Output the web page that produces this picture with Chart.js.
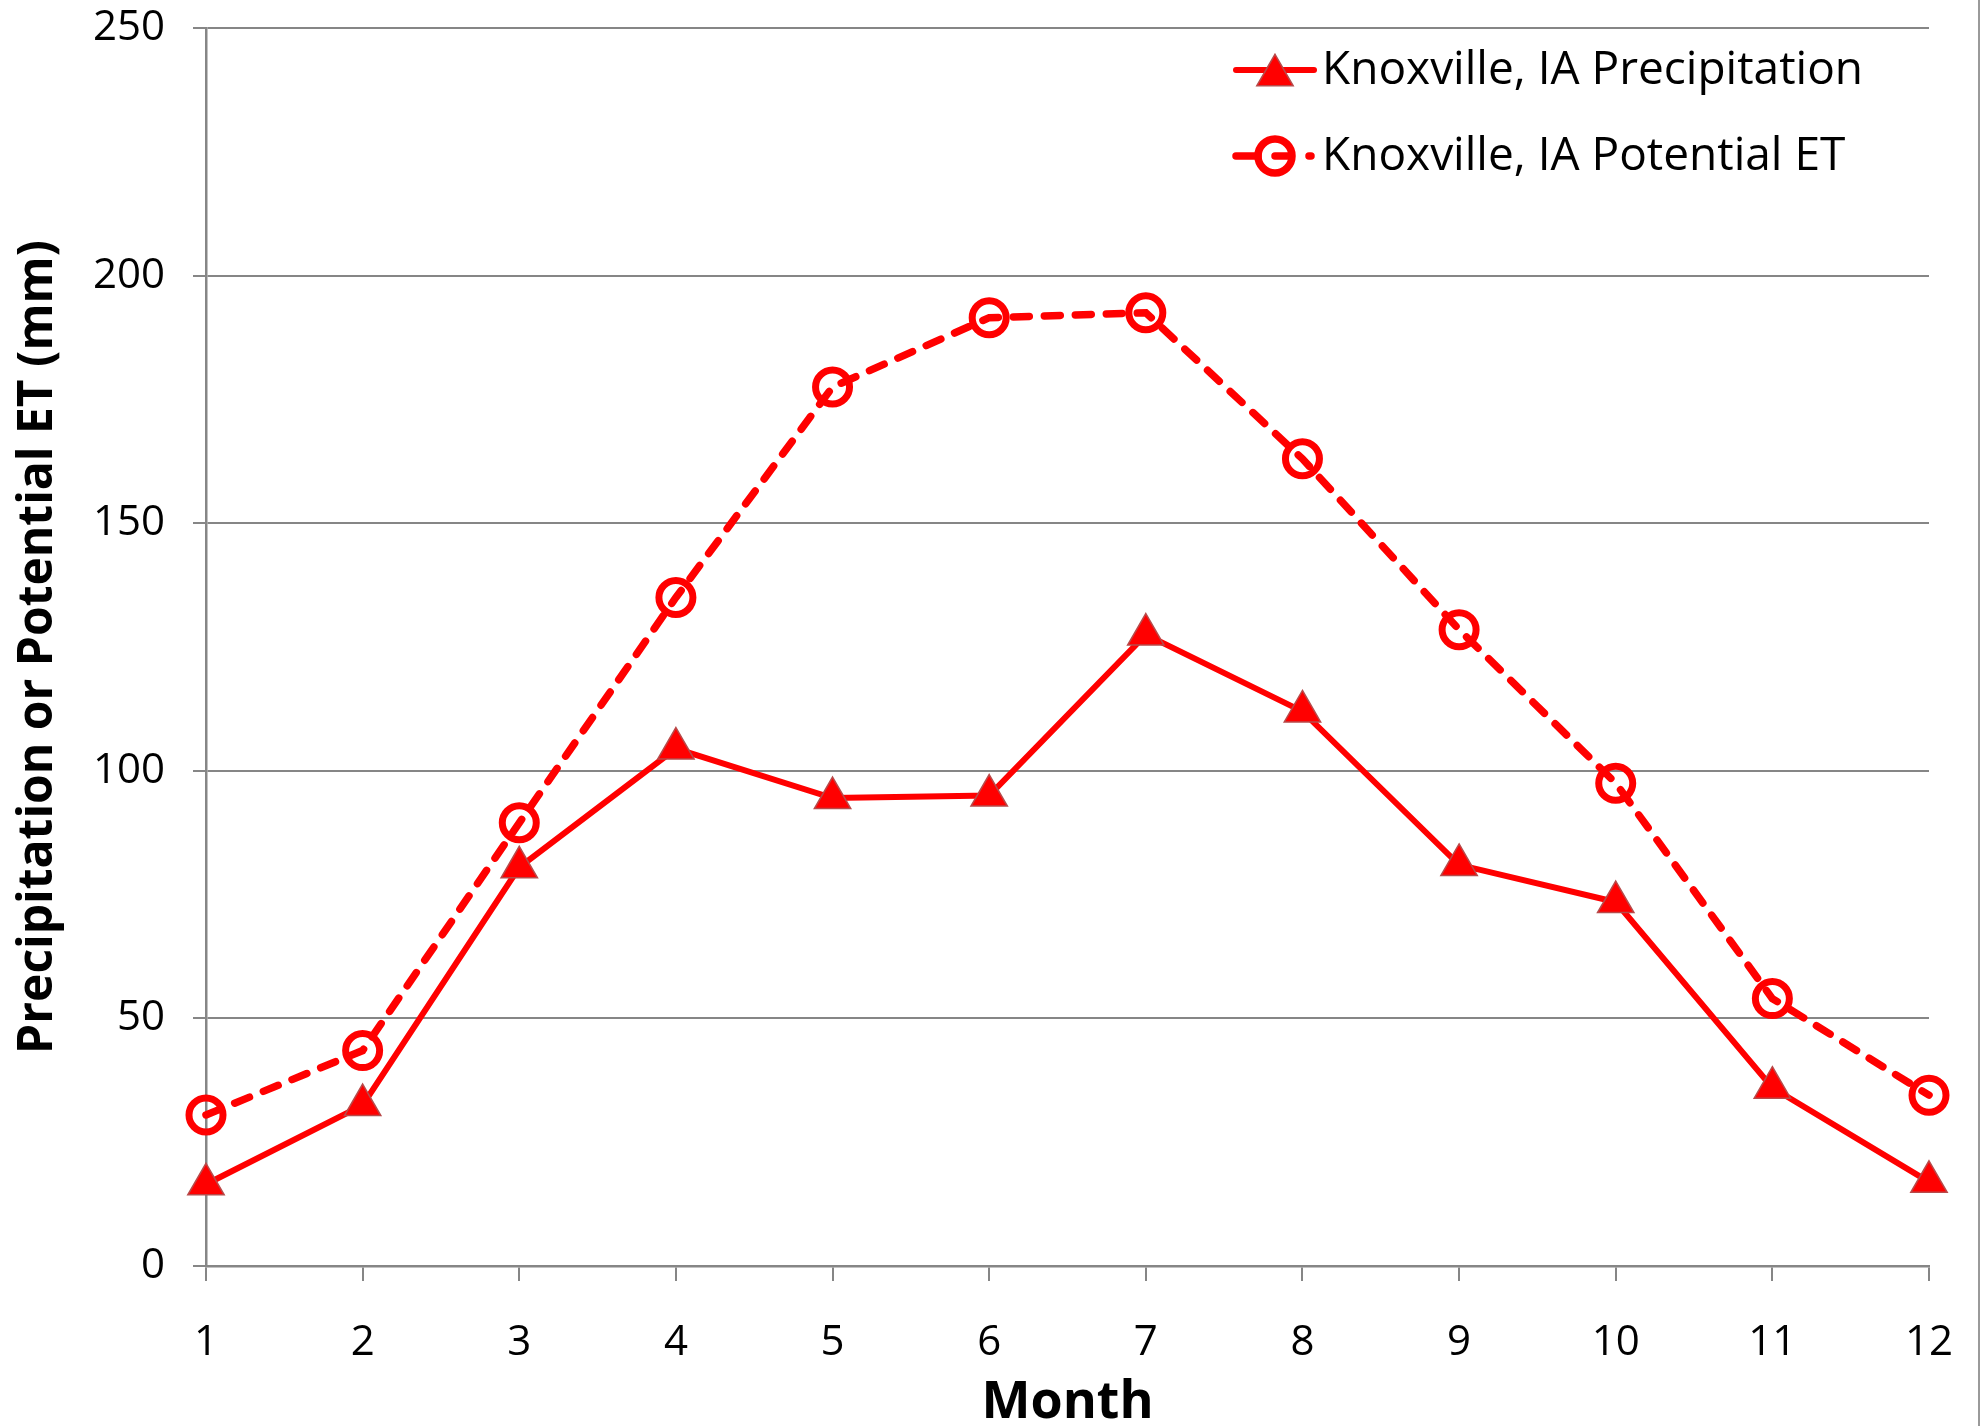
<!DOCTYPE html>
<html>
<head>
<meta charset="utf-8">
<script src="https://cdn.jsdelivr.net/npm/chart.js@4.4.1/dist/chart.umd.min.js"></script>
<style>
  html, body { margin: 0; padding: 0; background: #fff; }
  canvas { display: block; }
</style>
</head>
<body>
<canvas id="chart" width="1980" height="1426"></canvas>
<script>
const months = ['1', '2', '3', '4', '5', '6', '7', '8', '9', '10', '11', '12'];
const precipitation = [16.5, 32.5, 80.5, 104.5, 94.5, 95, 127.5, 112, 81, 73.5, 36, 17];
const potentialET = [30.5, 43.5, 89.5, 135, 177.5, 191.5, 192.5, 163, 128.5, 97.5, 54, 34.5];
const yTicks = [0, 50, 100, 150, 200, 250];
const seriesNames = ['Knoxville, IA Precipitation', 'Knoxville, IA Potential ET'];

const RED = '#FF0000';
const GRID = '#868686';
const FONT = '"Open Sans", "Noto Sans", sans-serif';

// legend drawn inside the plot, top right, line + marker like the original
const insideLegend = {
  id: 'insideLegend',
  afterDraw(chart) {
    const ctx = chart.ctx;
    ctx.save();

    // thin frame line at the right edge of the picture
    ctx.fillStyle = '#9a9a9a';
    ctx.fillRect(1978, 0, 2, 1426);

    const x0 = 1236, x1 = 1314, mx = 1275, tx = 1322;
    const rows = [70, 156];

    // row 1: solid line with triangle
    let y = rows[0];
    ctx.strokeStyle = RED;
    ctx.lineWidth = 6;
    ctx.lineCap = 'round';
    ctx.beginPath();
    ctx.moveTo(x0, y);
    ctx.lineTo(x1, y);
    ctx.stroke();
    const r = 21, cy = y + r / 4;
    ctx.beginPath();
    for (let i = 0; i < 3; i++) {
      const a = i * 2 * Math.PI / 3;
      const px = mx + Math.sin(a) * r, py = cy - Math.cos(a) * r;
      if (i === 0) ctx.moveTo(px, py); else ctx.lineTo(px, py);
    }
    ctx.closePath();
    ctx.fillStyle = RED;
    ctx.fill();
    ctx.strokeStyle = '#B84A4A';
    ctx.lineWidth = 1.5;
    ctx.stroke();

    // row 2: dashed line with open circle
    y = rows[1];
    ctx.strokeStyle = RED;
    ctx.lineWidth = 7.5;
    ctx.lineCap = 'round';
    ctx.beginPath();
    ctx.moveTo(x0, y);
    ctx.lineTo(1258, y);
    ctx.moveTo(1275, y);
    ctx.lineTo(1288, y);
    ctx.moveTo(1309, y);
    ctx.lineTo(1311, y);
    ctx.stroke();
    ctx.beginPath();
    ctx.arc(mx, y, 17, 0, Math.PI * 2);
    ctx.stroke();

    ctx.fillStyle = '#000';
    ctx.font = '46px ' + FONT;
    ctx.textBaseline = 'middle';
    ctx.textAlign = 'left';
    ctx.fillText(seriesNames[0], tx, rows[0] + 1);
    ctx.fillText(seriesNames[1], tx, rows[1] + 1);
    ctx.restore();
  }
};

new Chart(document.getElementById('chart').getContext('2d'), {
  type: 'line',
  data: {
    labels: months,
    datasets: [
      {
        label: seriesNames[0],
        data: precipitation,
        borderColor: RED,
        borderWidth: 6,
        tension: 0,
        pointStyle: 'triangle',
        pointRadius: 21,
        pointBackgroundColor: RED,
        pointBorderColor: '#B84A4A',
        pointBorderWidth: 1.5,
        clip: false
      },
      {
        label: seriesNames[1],
        data: potentialET,
        borderColor: RED,
        borderWidth: 7.5,
        borderDash: [16, 15],
        borderCapStyle: 'round',
        tension: 0,
        pointStyle: 'circle',
        pointRadius: 17,
        pointBackgroundColor: 'rgba(0,0,0,0)',
        pointBorderColor: RED,
        pointBorderWidth: 7,
        clip: false
      }
    ]
  },
  options: {
    responsive: false,
    animation: false,
    devicePixelRatio: 1,
    layout: { padding: { top: 28, right: 51, left: 0, bottom: 0 } },
    plugins: {
      legend: { display: false },
      tooltip: { enabled: false }
    },
    scales: {
      x: {
        type: 'category',
        offset: false,
        afterFit(scale) {
          scale.height = 160;
          scale.paddingLeft = 0;
          scale.paddingRight = 0;
        },
        grid: {
          display: true,
          drawOnChartArea: false,
          drawTicks: true,
          tickLength: 15,
          color: GRID,
          lineWidth: 2
        },
        border: { color: GRID, width: 2.5 },
        ticks: {
          color: '#000',
          padding: 41,
          maxRotation: 0,
          font: { family: FONT, size: 42, lineHeight: 1 }
        },
        title: {
          display: true,
          text: 'Month',
          color: '#000',
          padding: { top: 0, bottom: -3 },
          font: { family: FONT, size: 52, weight: 'bold', lineHeight: 1 }
        }
      },
      y: {
        min: yTicks[0],
        max: yTicks[yTicks.length - 1],
        afterFit(scale) {
          scale.width = 206;
          scale.paddingTop = 0;
          scale.paddingBottom = 0;
        },
        afterBuildTicks(scale) { scale.ticks = yTicks.map(v => ({ value: v })); },
        grid: {
          color: GRID,
          lineWidth: 2,
          tickLength: 13,
          tickColor: GRID
        },
        border: { color: GRID, width: 2.5 },
        ticks: {
          color: '#000',
          padding: 28,
          font: { family: FONT, size: 42, lineHeight: 1 }
        },
        title: {
          display: true,
          text: 'Precipitation or Potential ET (mm)',
          color: '#000',
          padding: { top: 14, bottom: 0 },
          font: { family: FONT, size: 48, weight: 'bold', lineHeight: 1 }
        }
      }
    }
  },
  plugins: [insideLegend]
});
</script>
</body>
</html>
